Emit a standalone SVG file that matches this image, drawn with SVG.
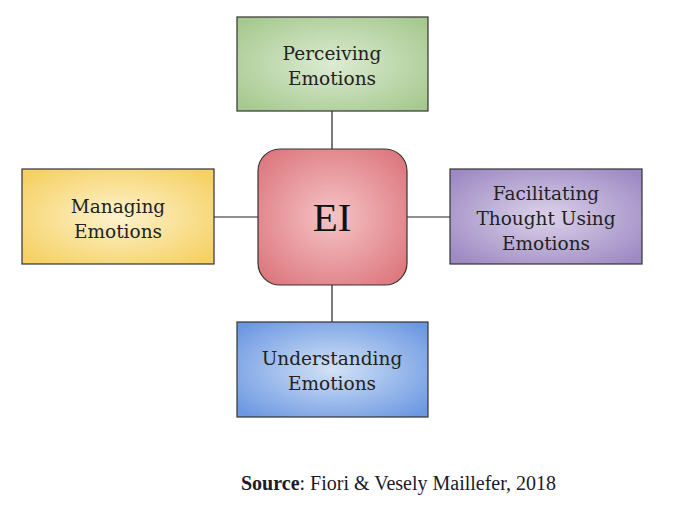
<svg xmlns="http://www.w3.org/2000/svg" width="700" height="509" viewBox="0 0 700 509">
<defs>
<radialGradient id="gGreen" cx="50%" cy="50%" r="65%"><stop offset="0" stop-color="#dcebd2"/><stop offset="1" stop-color="#a6c98f"/></radialGradient>
<radialGradient id="gYellow" cx="50%" cy="50%" r="65%"><stop offset="0" stop-color="#fdf2cc"/><stop offset="1" stop-color="#f5d062"/></radialGradient>
<radialGradient id="gPurple" cx="50%" cy="50%" r="65%"><stop offset="0" stop-color="#dcd2ea"/><stop offset="1" stop-color="#9d89c3"/></radialGradient>
<radialGradient id="gBlue" cx="50%" cy="50%" r="65%"><stop offset="0" stop-color="#d2e2f6"/><stop offset="1" stop-color="#6c98e2"/></radialGradient>
<radialGradient id="gRed" cx="50%" cy="50%" r="65%"><stop offset="0" stop-color="#f5c4c7"/><stop offset="1" stop-color="#dc767c"/></radialGradient>
</defs>
<style>
.box{stroke:#333;stroke-width:1.2}
.lbl{font-family:"DejaVu Serif","Liberation Serif",serif;font-size:18.5px;fill:#222;text-anchor:middle}
.conn{stroke:#222;stroke-width:1.2;fill:none}
</style>
<rect width="700" height="509" fill="#fff"/>
<g id="connectors">
<line class="conn" x1="332" y1="111" x2="332" y2="149"/>
<line class="conn" x1="332" y1="285" x2="332" y2="322"/>
<line class="conn" x1="214" y1="217" x2="258" y2="217"/>
<line class="conn" x1="407" y1="217" x2="450" y2="217"/>
</g>
<g id="perceiving">
<rect class="box" x="237" y="17" width="191" height="94" fill="url(#gGreen)"/>
<text class="lbl" x="332" y="60">Perceiving</text>
<text class="lbl" x="332" y="85">Emotions</text>
</g>
<g id="ei">
<rect class="box" x="258" y="149" width="149" height="136" rx="22" fill="url(#gRed)"/>
<text x="332" y="231" style="font-family:'Liberation Serif','DejaVu Serif',serif;font-size:41px;fill:#111;text-anchor:middle">EI</text>
</g>
<g id="managing">
<rect class="box" x="22" y="169" width="192" height="95" fill="url(#gYellow)"/>
<text class="lbl" x="118" y="213">Managing</text>
<text class="lbl" x="118" y="238">Emotions</text>
</g>
<g id="facilitating">
<rect class="box" x="450" y="169" width="192" height="95" fill="url(#gPurple)"/>
<text class="lbl" x="546" y="200">Facilitating</text>
<text class="lbl" x="546" y="225">Thought Using</text>
<text class="lbl" x="546" y="250">Emotions</text>
</g>
<g id="understanding">
<rect class="box" x="237" y="322" width="191" height="95" fill="url(#gBlue)"/>
<text class="lbl" x="332" y="365">Understanding</text>
<text class="lbl" x="332" y="390">Emotions</text>
</g>
<text x="241" y="490" style="font-family:'Liberation Serif','DejaVu Serif',serif;font-size:20px;fill:#1a1a2a"><tspan font-weight="bold">Source</tspan>: Fiori &amp; Vesely Maillefer, 2018</text>
</svg>
